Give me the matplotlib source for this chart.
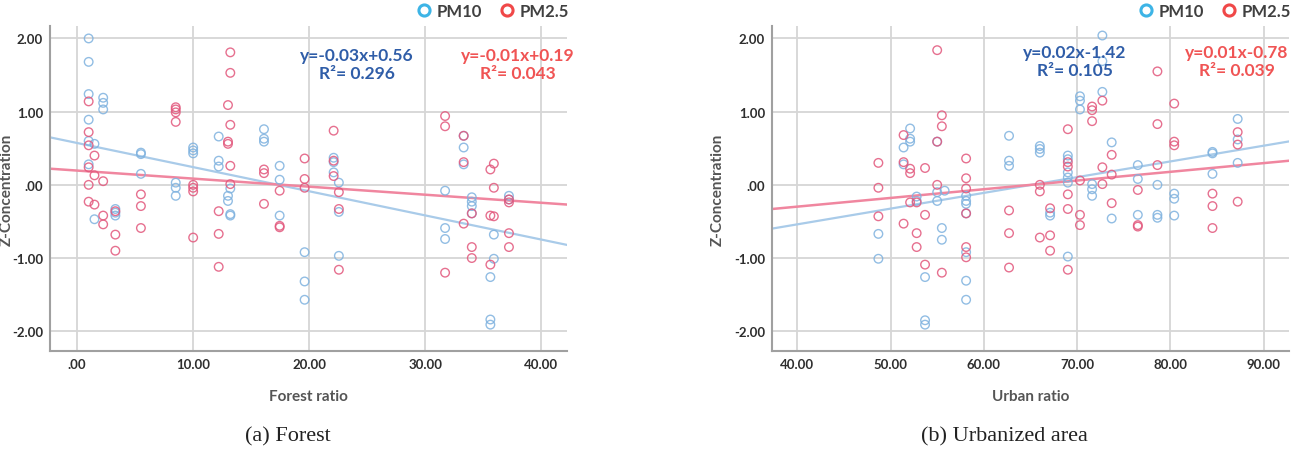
import matplotlib
matplotlib.use("Agg")
import matplotlib.pyplot as plt
from matplotlib.lines import Line2D
from matplotlib.ticker import FuncFormatter, MultipleLocator
import numpy as np

plt.rcParams['font.family'] = ['Lato', 'DejaVu Sans']

# (a) forest ratio vs Z-concentration
forest_pm10_x = [1.0, 1.0, 1.0, 1.0, 1.0, 1.0, 1.5, 1.5, 2.25, 2.25, 2.25,
                 3.3, 3.3, 3.3, 5.5, 5.5, 5.5, 8.5, 8.5, 8.5, 10.0, 10.0, 10.0,
                 12.2, 12.2, 12.2, 13.0, 13.0, 13.2, 13.2, 13.2, 16.1, 16.1, 16.1,
                 17.45, 17.45, 17.45, 19.6, 19.6, 19.6, 22.1, 22.1, 22.1,
                 22.55, 22.55, 22.55, 31.7, 31.7, 31.7, 33.3, 33.3, 33.3,
                 34.0, 34.0, 34.0, 34.0, 35.6, 35.6, 35.6, 35.9, 35.9, 37.2, 37.2]
forest_pm10_y = [2.00, 1.68, 1.24, 0.89, 0.60, 0.28, 0.56, -0.47, 1.19, 1.12, 1.03,
                 -0.33, -0.38, -0.42, 0.44, 0.42, 0.15, 0.03, -0.04, -0.15, 0.51, 0.47, 0.43,
                 0.66, 0.33, 0.25, -0.15, -0.22, -0.05, -0.40, -0.42, 0.76, 0.63, 0.59,
                 0.26, 0.07, -0.42, -0.92, -1.32, -1.57, 0.37, 0.31, 0.17,
                 0.03, -0.37, -0.97, -0.08, -0.59, -0.74, 0.67, 0.51, 0.28,
                 -0.17, -0.23, -0.29, -0.39, -1.26, -1.84, -1.91, -0.68, -1.01, -0.15, -0.20]

forest_pm25_x = [1.0, 1.0, 1.0, 1.0, 1.0, 1.0, 1.5, 1.5, 1.5, 2.25, 2.25, 2.25,
                 3.3, 3.3, 3.3, 5.5, 5.5, 5.5, 8.5, 8.5, 8.5, 8.5, 10.0, 10.0, 10.0, 10.0,
                 12.2, 12.2, 12.2, 13.0, 13.0, 13.0, 13.2, 13.2, 13.2, 13.2, 13.2,
                 16.1, 16.1, 16.1, 17.45, 17.45, 17.45, 19.6, 19.6, 19.6,
                 22.1, 22.1, 22.1, 22.55, 22.55, 22.55, 31.7, 31.7, 31.7,
                 33.3, 33.3, 33.3, 34.0, 34.0, 34.0, 35.6, 35.6, 35.6,
                 35.9, 35.9, 35.9, 37.2, 37.2, 37.2, 37.2]
forest_pm25_y = [1.14, 0.72, 0.54, 0.24, 0.0, -0.23, 0.40, 0.13, -0.27, 0.05, -0.42, -0.54,
                 -0.36, -0.68, -0.90, -0.13, -0.29, -0.59, 1.06, 1.03, 0.99, 0.86, 0.0, -0.04, -0.09, -0.72,
                 -0.36, -0.67, -1.12, 1.09, 0.59, 0.56, 1.81, 1.53, 0.82, 0.26, 0.01,
                 0.21, 0.16, -0.26, -0.08, -0.56, -0.58, 0.36, 0.08, -0.04,
                 0.74, 0.33, 0.12, -0.10, -0.33, -1.16, 0.94, 0.80, -1.20,
                 0.67, 0.31, -0.53, -0.39, -0.85, -1.00, 0.21, -0.42, -1.09,
                 0.29, -0.04, -0.43, -0.20, -0.24, -0.66, -0.85]

# (b) urban ratio vs Z-concentration
urban_pm10_x = [48.7, 48.7, 51.4, 51.4, 52.1, 52.1, 52.1, 52.8, 52.8,
                53.7, 53.7, 53.7, 55.0, 55.0, 55.0, 55.5, 55.5, 55.8,
                58.1, 58.1, 58.1, 58.1, 58.1, 58.1, 58.1, 62.7, 62.7, 62.7,
                66.0, 66.0, 66.0, 67.1, 67.1, 69.0, 69.0, 69.0, 69.0, 69.0, 69.0,
                70.3, 70.3, 70.3, 71.6, 71.6, 71.6, 72.7, 72.7, 72.7, 73.7, 73.7,
                76.5, 76.5, 76.5, 78.6, 78.6, 78.6, 80.4, 80.4, 80.4,
                84.5, 84.5, 84.5, 87.2, 87.2, 87.2]
urban_pm10_y = [-0.67, -1.01, 0.51, 0.28, 0.77, 0.63, 0.59, -0.16, -0.22,
                -1.26, -1.85, -1.91, 0.59, -0.10, -0.22, -0.59, -0.75, -0.08,
                -0.15, -0.22, -0.26, -0.39, -0.92, -1.31, -1.57, 0.67, 0.33, 0.26,
                0.53, 0.49, 0.44, -0.38, -0.42, 0.40, 0.35, 0.17, 0.10, 0.03, -0.98,
                1.21, 1.15, 1.03, 0.01, -0.06, -0.15, 2.04, 1.69, 1.27, 0.58, -0.46,
                0.27, 0.08, -0.41, 0.0, -0.41, -0.45, -0.12, -0.19, -0.42,
                0.45, 0.43, 0.15, 0.90, 0.62, 0.30]

urban_pm25_x = [48.7, 48.7, 48.7, 51.4, 51.4, 51.4, 52.1, 52.1, 52.1, 52.8, 52.8, 52.8,
                53.7, 53.7, 53.7, 55.0, 55.0, 55.0, 55.5, 55.5, 55.5,
                58.1, 58.1, 58.1, 58.1, 58.1, 58.1, 62.7, 62.7, 62.7,
                66.0, 66.0, 66.0, 67.1, 67.1, 67.1, 69.0, 69.0, 69.0, 69.0, 69.0, 69.0,
                70.3, 70.3, 70.3, 71.6, 71.6, 71.6, 72.7, 72.7, 72.7, 73.7, 73.7, 73.7,
                76.5, 76.5, 76.5, 78.6, 78.6, 78.6, 80.4, 80.4, 80.4,
                84.5, 84.5, 84.5, 87.2, 87.2, 87.2]
urban_pm25_y = [0.30, -0.04, -0.43, 0.68, 0.31, -0.53, 0.22, 0.16, -0.24, -0.24, -0.66, -0.85,
                0.23, -0.41, -1.09, 1.84, 0.59, 0.0, 0.95, 0.80, -1.20,
                0.36, 0.09, -0.05, -0.39, -0.85, -0.99, -0.35, -0.66, -1.13,
                0.0, -0.09, -0.72, -0.32, -0.69, -0.90, 0.76, 0.31, 0.25, -0.13, -0.33, -1.16,
                0.06, -0.41, -0.55, 1.07, 1.02, 0.87, 1.15, 0.24, 0.01, 0.41, 0.14, -0.25,
                -0.07, -0.55, -0.57, 1.55, 0.83, 0.27, 1.11, 0.59, 0.54,
                -0.12, -0.29, -0.59, 0.72, 0.55, -0.23]

# fitted lines as drawn (slope, intercept)
forest_fit_pm10 = (-0.033, 0.572)
forest_fit_pm25 = (-0.011, 0.195)
urban_fit_pm10 = (0.0215, -1.40)
urban_fit_pm25 = (0.0119, -0.774)

forest_eq = ["y=-0.03x+0.56\nR²= 0.296", "y=-0.01x+0.19\nR²= 0.043"]
urban_eq = ["y=0.02x-1.42\nR²= 0.105", "y=0.01x-0.78\nR²= 0.039"]

c10 = '#7fb2df'
c25 = '#e2577c'
line10 = '#a9cbe9'
line25 = '#f0869f'

W, H = 1301, 452
fig = plt.figure(figsize=(W / 100, H / 100), dpi=100)


def fmt(v, pos):
    s = "%.2f" % v
    if s.startswith("0."):
        s = s[1:]
    elif s.startswith("-0."):
        s = "-" + s[2:]
    return s


def panel(left_px, xlim, xstep, x10, y10, x25, y25, fit10, fit25, xlabel):
    ax = fig.add_axes([left_px / W, 100 / H, 517 / W, 325 / H])
    ax.set_xlim(*xlim)
    ax.set_ylim(-2.27, 2.17)
    ax.xaxis.set_major_locator(MultipleLocator(xstep))
    ax.yaxis.set_major_locator(MultipleLocator(1.0))
    ax.xaxis.set_major_formatter(FuncFormatter(fmt))
    ax.yaxis.set_major_formatter(FuncFormatter(fmt))
    ax.grid(True, color='#d6d6d6', lw=1.3)
    ax.set_axisbelow(True)
    for s in ['top', 'right']:
        ax.spines[s].set_visible(False)
    for s in ['left', 'bottom']:
        ax.spines[s].set_color('#a0a0a0')
        ax.spines[s].set_linewidth(1.5)
    ax.tick_params(length=0, labelsize=9.5, labelcolor='#2e2e2e', pad=5)
    for lab in ax.get_xticklabels() + ax.get_yticklabels():
        lab.set_fontweight('bold')

    xs = np.array(xlim)
    ax.plot(xs, fit10[0] * xs + fit10[1], color=line10, lw=1.6, zorder=2)
    ax.plot(xs, fit25[0] * xs + fit25[1], color=line25, lw=1.8, zorder=2)
    ax.scatter(x10, y10, s=38, facecolors='none', edgecolors=c10, linewidths=1.0, alpha=0.85, zorder=3)
    ax.scatter(x25, y25, s=38, facecolors='none', edgecolors=c25, linewidths=1.0, alpha=0.85, zorder=3)

    ax.set_xlabel(xlabel, fontsize=11, fontweight='bold', color='#555555', labelpad=14)

    handles = [Line2D([], [], marker='o', ls='', mfc='none', mec='#3db4e6', mew=2.2, ms=8),
               Line2D([], [], marker='o', ls='', mfc='none', mec='#f04848', mew=2.2, ms=8)]
    ax.legend(handles, ['PM10', 'PM2.5'], loc='center right', ncol=2, frameon=False,
              bbox_to_anchor=((left_px + 519) / W, 1 - 12 / H), bbox_transform=fig.transFigure,
              handletextpad=0.25, columnspacing=1.0, handlelength=1.0, borderpad=0, borderaxespad=0,
              prop={'weight': 'bold', 'size': 12}, labelcolor='#404040')
    return ax


ax1 = panel(50, (-2.33, 42.2), 10, forest_pm10_x, forest_pm10_y, forest_pm25_x, forest_pm25_y,
            forest_fit_pm10, forest_fit_pm25, "Forest ratio")
ax2 = panel(772, (37.3, 92.7), 10, urban_pm10_x, urban_pm10_y, urban_pm25_x, urban_pm25_y,
            urban_fit_pm10, urban_fit_pm25, "Urban ratio")

# equations
eq_kw = dict(ha='center', va='center', fontsize=12.5, fontweight='bold', linespacing=1.15)
fig.text(357 / W, 1 - 65 / H, forest_eq[0], color='#2f5da8', **eq_kw)
fig.text(518 / W, 1 - 65 / H, forest_eq[1], color='#f05454', **eq_kw)
fig.text(1075 / W, 1 - 62 / H, urban_eq[0], color='#2f5da8', **eq_kw)
fig.text(1237 / W, 1 - 62 / H, urban_eq[1], color='#f05454', **eq_kw)

# y labels
fig.text(7 / W, 1 - 190 / H, "Z-Concentration", rotation=90, ha='center', va='center',
         fontsize=11, fontweight='bold', color='#555555')
fig.text(718 / W, 1 - 190 / H, "Z-Concentration", rotation=90, ha='center', va='center',
         fontsize=11, fontweight='bold', color='#555555')

# captions
fig.text(288 / W, 1 - 437 / H, "(a) Forest", ha='center', va='center',
         fontsize=16, family='Liberation Serif', color='#222222')
fig.text(1004 / W, 1 - 437 / H, "(b) Urbanized area", ha='center', va='center',
         fontsize=16, family='Liberation Serif', color='#222222')

fig.savefig("out.png", dpi=100)
